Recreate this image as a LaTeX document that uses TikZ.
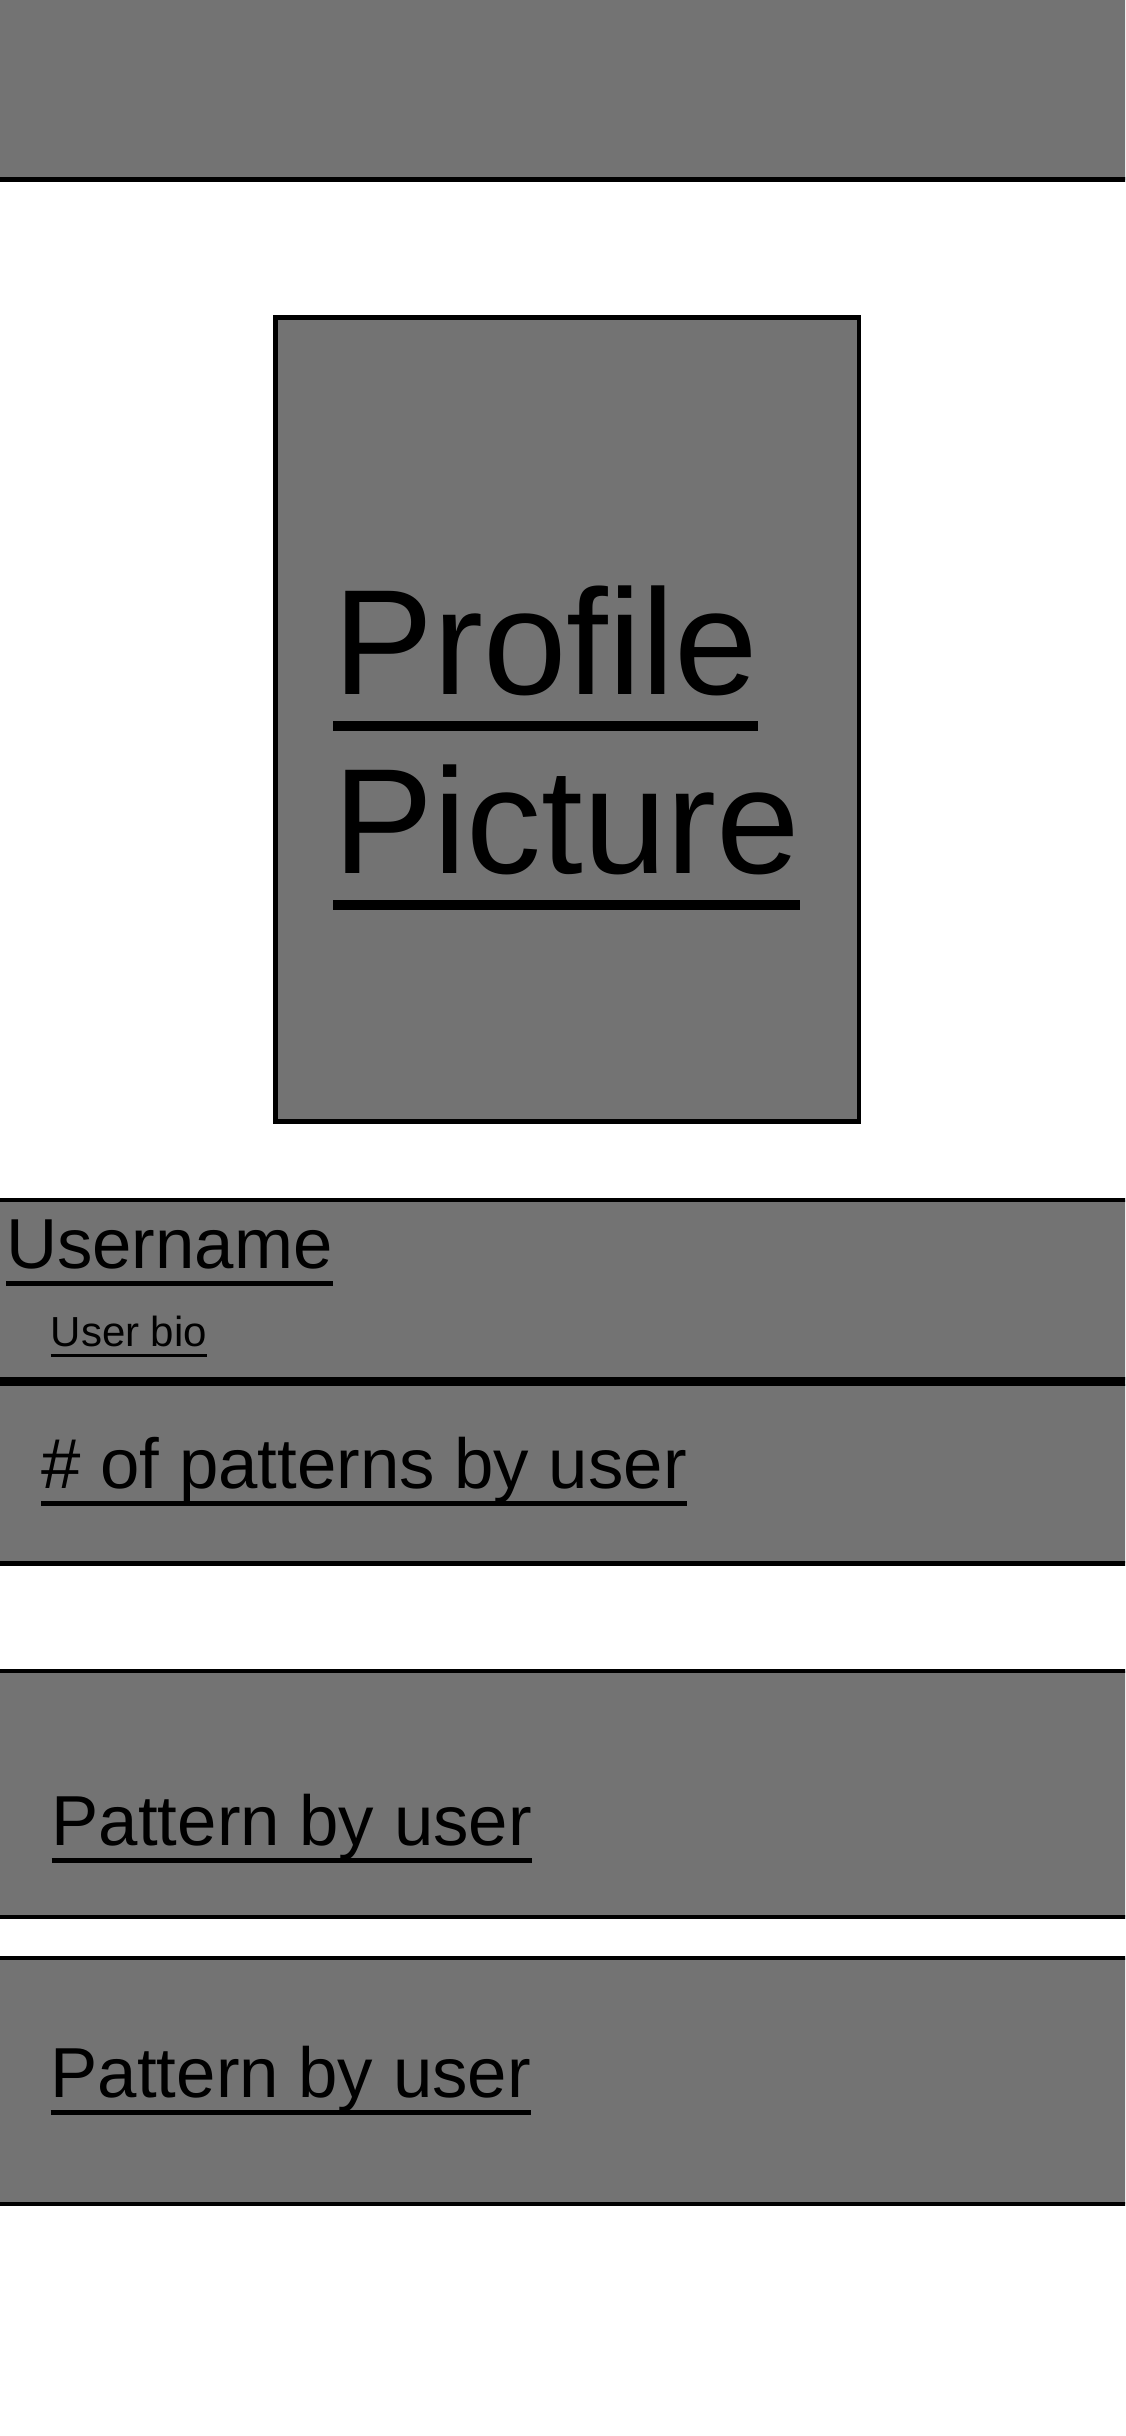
\documentclass[tikz,border=0pt]{standalone}
\usepackage{fontspec}
\setmainfont{Liberation Sans}
\definecolor{mockgray}{RGB}{115,115,115}
\newcommand\myul[1]{\sbox0{#1}\rlap{\rule[-0.249em]{\wd0}{0.068em}}\usebox0}
\tikzset{
  panel/.style={fill=mockgray, draw=black, line width=4.5pt},
  lbl/.style={anchor=base west, inner sep=0pt, outer sep=0pt, text=black},
  big/.style={lbl, font=\fontsize{70.8pt}{85pt}\selectfont},
}
\begin{document}
\begin{tikzpicture}[x=1pt,y=-1pt]
\useasboundingbox (0,0) rectangle (1125,2436);
\clip (0,0) rectangle (1125,2436);
\fill[white] (0,0) rectangle (1125,2436);
% top bar
\draw[panel] (-20,-20) rectangle (1145,179.7);
% profile picture box
\draw[panel] (275.5,317.5) rectangle (859,1121.7);
\node[lbl, font=\fontsize{150pt}{179pt}\selectfont] (prof1) at (333,694) {\myul{Profile}};
\node[lbl, font=\fontsize{150pt}{179pt}\selectfont] (prof2) at (333,873) {\myul{Picture}};
% username band
\draw[panel] (-20,1199.8) rectangle (1145,1379.6);
\node[big] (uname) at (6,1268.3) {\myul{Username}};
\node[lbl, font=\fontsize{42pt}{50pt}\selectfont] (bio) at (50.7,1346.7) {\myul{User bio}};
% count band
\draw[panel] (-20,1384) rectangle (1145,1563.3);
\node[big] (count) at (41.3,1488.3) {\myul{\# of patterns by user}};
% pattern bands
\draw[panel] (-20,1670.8) rectangle (1145,1917);
\node[big] (pat1) at (51.7,1845.5) {\myul{Pattern by user}};
\draw[panel] (-20,1958) rectangle (1145,2204);
\node[big] (pat2) at (50.7,2097) {\myul{Pattern by user}};
\end{tikzpicture}
\end{document}
